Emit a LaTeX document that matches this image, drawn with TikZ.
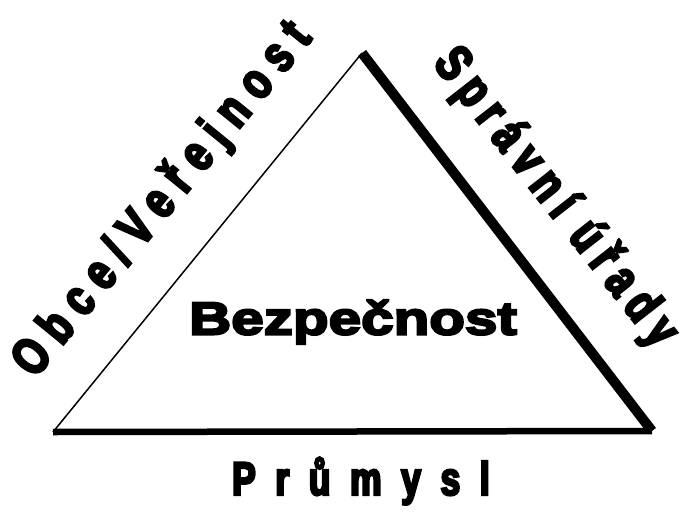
\documentclass[tikz,border=0pt]{standalone}
\usepackage{fontspec}
\setmainfont{Liberation Sans}
\newfontfamily\heavy[FakeStretch=0.75,FakeBold=5]{Liberation Sans Bold}
\newfontfamily\wide[FakeStretch=1.27,FakeBold=5]{Liberation Sans Bold}
\begin{document}
\begin{tikzpicture}[x=1pt,y=-1pt,
  lbl/.style={inner sep=0pt,font=\fontsize{47}{50}\heavy},
  rlbl/.style={inner sep=0pt,font=\fontsize{52}{56}\heavy},
  thinedge/.style={line width=1.5pt},
  thickedge/.style={line width=10pt},
  baseedge/.style={line width=6.5pt}]
\useasboundingbox (0,0) rectangle (684,511);
\coordinate (A) at (362,53);
\coordinate (L) at (53,432);
\coordinate (R) at (652,431);
\draw[thinedge] (L) -- (A);
\draw[baseedge] (L) -- (R);
\draw[thickedge] (A) -- (R);
\node[rlbl,rotate=50.8] (obce) at (163,200) {\addfontfeature{LetterSpace=23}Obce/Veřejnost};
\node[rlbl,rotate=-52] (spravni) at (555,198) {\addfontfeature{LetterSpace=18}Správní úřady};
\node[lbl] (prumysl) at (361,481) {\addfontfeature{LetterSpace=42}Průmysl};
\node[inner sep=0pt,font=\fontsize{46}{50}\wide] (bez) at (353,322) {Bezpečnost};
\end{tikzpicture}
\end{document}
